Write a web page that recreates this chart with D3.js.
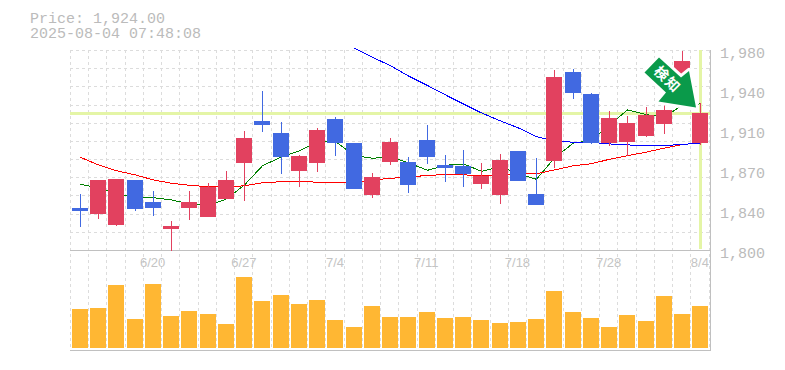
<!DOCTYPE html>
<html><head><meta charset="utf-8">
<script src="https://cdnjs.cloudflare.com/ajax/libs/d3/7.9.0/d3.min.js"></script>
<style>
html,body{margin:0;padding:0;background:#fff}
svg{display:block}
text{font-family:"Liberation Mono",monospace;fill:#bbb}
</style></head><body>
<svg id="c" width="785" height="370"></svg>
<script>
const titleLines = ["Price: 1,924.00", "2025-08-04 07:48:08"];
const lastPrice = 1924;
const opens  = [1838.3,1832.9,1823.0,1863.5,1843.7,1819.4,1838.3,1830.2,1846.4,1878.8,1916.6,1905.8,1871.6,1878.8,1918.4,1896.8,1850.0,1879.7,1879.7,1899.5,1877.0,1876.1,1859.9,1850.0,1889.6,1850.9,1880.6,1960.7,1940.9,1896.8,1897.7,1903.1,1913.9,1958.0,1896.8];
const highs  = [1850.9,1863.5,1864.4,1863.5,1853.6,1826.6,1853.6,1860.8,1871.8,1907.6,1943.6,1915.7,1886.0,1910.3,1920.2,1896.8,1869.8,1901.3,1884.2,1913.0,1886.0,1890.5,1878.8,1886.9,1889.6,1883.3,1962.5,1963.4,1941.8,1925.6,1921.1,1929.2,1931.0,1979.6,1932.8];
const lows   = [1821.2,1828.6,1822.1,1835.6,1831.1,1799.8,1827.5,1830.2,1846.4,1844.6,1906.7,1868.9,1857.2,1870.7,1885.1,1855.4,1847.3,1877.0,1851.8,1877.9,1861.7,1857.2,1855.4,1841.9,1862.6,1841.0,1874.3,1936.4,1895.9,1894.1,1885.1,1902.2,1904.9,1953.5,1895.0];
const closes = [1835.6,1863.5,1864.4,1837.4,1838.3,1822.1,1843.7,1857.2,1863.5,1901.3,1913.0,1884.2,1885.1,1908.5,1896.8,1855.4,1866.2,1897.7,1859.0,1884.2,1874.3,1868.9,1867.1,1881.5,1862.6,1841.0,1956.2,1941.8,1896.8,1919.3,1914.8,1922.0,1926.5,1970.6,1924.0];
const volumes = [39,40,63,29,64,32,37,34,24,71,47,53,44,48,28,21,42,31,31,36,30,31,28,25,26,29,57,36,30,21,33,27,52,34,42];
const maShort = [1859.6,1856.3,1850.9,1847.9,1847.5,1845.5,1841.9,1840.3,1846.4,1859.0,1876.3,1884.2,1889.8,1898.0,1898.0,1885.3,1883.0,1884.4,1878.8,1872.2,1876.7,1877.9,1871.3,1875.4,1868.9,1864.1,1883.3,1896.8,1898.8,1913.0,1926.5,1922.2,1920.2,1931.0,1931.9];
const maMid = [1883.9,1877.0,1871.8,1868.0,1863.5,1860.5,1858.7,1857.4,1856.9,1858.3,1861.0,1861.9,1862.3,1861.4,1861.4,1861.4,1863.5,1865.0,1865.9,1867.7,1868.2,1868.0,1867.7,1867.7,1869.1,1869.1,1872.5,1876.3,1878.1,1882.1,1885.3,1888.6,1892.2,1895.4,1896.8];
const maLong = [null,null,null,null,null,null,null,null,null,null,null,null,null,null,null,1982.0,1973.9,1966.3,1957.0,1948.5,1940.0,1931.9,1923.8,1916.6,1910.3,1902.4,1898.8,1897.4,1897.4,1895.9,1895.0,1894.5,1894.5,1895.4,1896.8];
const priceTicks = [1980,1944,1908,1872,1836,1800];
const priceLabels = ["1,980","1,940","1,910","1,870","1,840","1,800"];
const dateIndex = [4,9,14,19,24,29,34];
const dateLabels = ["6/20","6/27","7/4","7/11","7/18","7/28","8/4"];

const RED="#e2415f", BLUE="#4169e1", ORANGE="#ffb733", YEL="#e4f5a6", GRID="#dcdcdc", AXIS="#c0c0c0";
const L=70.5, R=709, T=50.5, MID=250.5, VB=348;

const svg=d3.select("#c");
const x=d3.scaleBand().domain(d3.range(opens.length)).range([L,R]).paddingInner(0).paddingOuter(0);
const y=d3.scaleLinear().domain([1800,1980]).range([MID,T]);
const yv=d3.scaleLinear().domain([0,100]).range([VB,VB-100]);
const bx=i=>Math.round(x(i)+1.5);
const cx=i=>bx(i)+8;

// grid
const g=svg.append("g").attr("stroke",GRID).attr("stroke-dasharray","3,3").attr("shape-rendering","crispEdges");
d3.range(opens.length+1).forEach(i=>{
  const px=Math.round(L+i*x.step()-0.5)+0.5;
  g.append("line").attr("x1",px).attr("x2",px).attr("y1",50).attr("y2",350);
});
d3.range(12).forEach(i=>{
  const py=Math.round(T+i*(MID-T)/11-0.5)+0.5;
  if(i<11) g.append("line").attr("x1",70).attr("x2",709).attr("y1",py).attr("y2",py);
});

// current price cross
svg.append("rect").attr("x",70).attr("width",640).attr("y",Math.round(y(lastPrice))-1).attr("height",3).attr("fill",YEL);
svg.append("rect").attr("x",cx(34)-1).attr("width",3).attr("y",50).attr("height",199).attr("fill",YEL);

// frame
const fr=svg.append("g").attr("stroke",AXIS).attr("shape-rendering","crispEdges");
fr.append("line").attr("x1",70).attr("x2",710).attr("y1",250.5).attr("y2",250.5);
fr.append("line").attr("x1",70).attr("x2",710).attr("y1",350.5).attr("y2",350.5);
fr.append("line").attr("x1",710.5).attr("x2",710.5).attr("y1",50).attr("y2",351);

// moving averages
[[maShort,"#008000"],[maMid,"#ff0000"],[maLong,"#0000ff"]].forEach(([d,c])=>{
  svg.append("path").attr("fill","none").attr("stroke",c).attr("stroke-width",1).attr("shape-rendering","crispEdges")
   .attr("d",d3.line().defined(v=>v!==null).x((v,i)=>cx(i)+0.5).y(v=>y(v))(d));
});

// candles
const color=i=>closes[i]>=opens[i]?RED:BLUE;
const idx=d3.range(opens.length);
svg.append("g").selectAll("rect").data(idx).join("rect")
 .attr("x",cx).attr("width",1)
 .attr("y",i=>Math.round(y(highs[i]))).attr("height",i=>Math.round(y(lows[i]))-Math.round(y(highs[i])))
 .attr("fill",color);
svg.append("g").selectAll("rect").data(idx).join("rect")
 .attr("x",bx).attr("width",16)
 .attr("y",i=>Math.round(y(Math.max(opens[i],closes[i]))))
 .attr("height",i=>Math.max(1,Math.round(y(Math.min(opens[i],closes[i])))-Math.round(y(Math.max(opens[i],closes[i])))))
 .attr("fill",color);

// volume
svg.append("g").selectAll("rect").data(idx).join("rect")
 .attr("x",bx).attr("width",16)
 .attr("y",i=>yv(volumes[i])).attr("height",i=>VB-yv(volumes[i]))
 .attr("fill",ORANGE);

// axes
const ay=svg.append("g").attr("transform","translate(710,0)")
 .call(d3.axisRight(y).tickValues(priceTicks).tickSize(0).tickPadding(10).tickFormat((d,i)=>priceLabels[i]));
ay.select(".domain").remove();
ay.selectAll("text").attr("transform","translate(0,7)").attr("dy","0").style("font-size","15px").style("fill","#bbb");

const ax=svg.append("g").attr("transform","translate(0,250)")
 .call(d3.axisBottom(x).tickValues(dateIndex).tickSize(0).tickFormat(d=>dateLabels[dateIndex.indexOf(d)]));
ax.select(".domain").remove();
ax.selectAll("text").attr("y",17).attr("dy","0").style("font-family","'Liberation Sans',sans-serif").style("font-size","13px").style("fill","#c4c4c4");

// title
svg.append("g").selectAll("text").data(titleLines).join("text")
 .attr("x",30).attr("y",(d,i)=>23+i*15).style("font-size","15px").text(d=>d);

// signal arrow anchored to last candle, with a white halo
const ar=svg.append("g").attr("transform",`translate(${cx(34)},${Math.round(y(lastPrice))})`);
const arrowPath="M-4,-5.5L-41.5,-11.5L-34,-20.5L-55.5,-40.5L-41,-55.5L-19,-35.5L-11,-42Z";
ar.append("path").attr("d",arrowPath).attr("fill","#fff").attr("stroke","#fff").attr("stroke-width",6).attr("stroke-linejoin","round");
ar.append("path").attr("fill","#0a9a4a").attr("d",arrowPath);
["検","知"].forEach((t,i)=>{
 ar.append("text").attr("transform",`translate(${-38.5+i*11},${-39.5+i*11}) rotate(45)`)
  .attr("text-anchor","middle").attr("dy","0.36em")
  .style("font-family","'Noto Sans CJK JP',sans-serif").style("font-weight","700").style("font-size","14px").style("fill","#fff").text(t);
});
</script>
</body></html>
